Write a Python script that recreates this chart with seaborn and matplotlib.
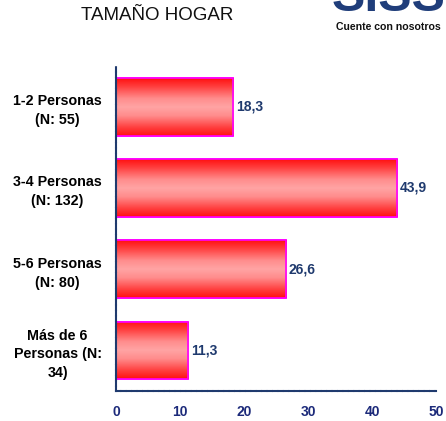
import numpy as np
import pandas as pd
import matplotlib
matplotlib.use("Agg")
import matplotlib.pyplot as plt
from matplotlib.colors import LinearSegmentedColormap
import seaborn as sns

# --- data ---
categories = ["1-2 Personas\n(N: 55)", "3-4 Personas\n(N: 132)",
              "5-6 Personas\n(N: 80)", "Más de 6\nPersonas (N:\n34)"]
percent = [18.3, 43.9, 26.6, 11.3]
value_labels = ["18,3", "43,9", "26,6", "11,3"]
x_ticks = [0, 10, 20, 30, 40, 50]

df = pd.DataFrame({"cat": categories, "pct": percent})

sns.set_style("white")
plt.rcParams["font.family"] = ["Liberation Sans", "DejaVu Sans"]

navy = "#1f3a6e"
fig = plt.figure(figsize=(4.46, 4.21), dpi=100)
ax = fig.add_axes([0.260, 0.071, 0.718, 0.772])

sns.barplot(data=df, x="pct", y="cat", orient="h", ax=ax, width=0.71,
            color="#ff3030", edgecolor="#ff00ff", linewidth=1.2)

# vertical gradient red -> pink -> red inside each bar
grad = LinearSegmentedColormap.from_list(
    "g", [(0.0, "#ff1010"), (0.15, "#ff4040"), (0.35, "#ff8c8c"),
          (0.5, "#ffa4a4"), (0.65, "#ff8c8c"), (0.85, "#ff4040"),
          (1.0, "#ff1010")])
gvals = np.linspace(0, 1, 256).reshape(-1, 1)
for p in ax.patches:
    x0, y0 = p.get_x(), p.get_y()
    w, h = p.get_width(), p.get_height()
    im = ax.imshow(gvals, cmap=grad, aspect="auto", interpolation="bilinear",
                   extent=[x0, x0 + w, y0 + h, y0], zorder=p.get_zorder() + 0.1)
    im.set_clip_path(p)
    edge = plt.Rectangle((x0, y0), w, h, fill=False, edgecolor="#ff00ff",
                         linewidth=1.2, zorder=p.get_zorder() + 0.2)
    ax.add_patch(edge)

for i, (v, lab) in enumerate(zip(percent, value_labels)):
    ax.text(v + 0.4, i, lab, va="center", ha="left", fontsize=10,
            fontweight="bold", color=navy)

ax.set_xlim(0, 50)
ax.set_ylim(3.5, -0.5)
ax.set_xticks(x_ticks)
ax.set_xticklabels([str(t) for t in x_ticks], fontsize=10, fontweight="bold",
                   color="#1c2a7a")
ax.set_yticks([0, 1, 2, 3])
ax.set_yticklabels(categories, fontsize=10.3, fontweight="bold", color="black",
                   ha="center", linespacing=1.45)
ax.tick_params(axis="y", length=0, pad=42)
ax.set_yticks([-0.5, 0.5, 1.5, 2.5, 3.5], minor=True)
ax.tick_params(axis="y", which="minor", length=4, color=navy, width=1.2)
ax.tick_params(axis="x", length=4, color=navy, width=1.2, pad=6)
ax.set_xlabel("")
ax.set_ylabel("")

for side in ["top", "right"]:
    ax.spines[side].set_visible(False)
for side in ["left", "bottom"]:
    ax.spines[side].set_color(navy)
    ax.spines[side].set_linewidth(1.5)
    ax.spines[side].set_linestyle((0, (2, 0.6)))

# header
fig.text(0.352, 0.962, "TAMAÑO HOGAR", fontsize=13.5, color="#111111",
         ha="center", va="center")
fig.text(0.872, 1.005, "SISS", fontsize=36, fontweight="bold", color="#1f3d7a",
         ha="center", va="center")
fig.text(0.870, 0.937, "Cuente con nosotros", fontsize=7.6, fontweight="bold",
         color="#111111", ha="center", va="center")

fig.savefig("out.png", dpi=100)
